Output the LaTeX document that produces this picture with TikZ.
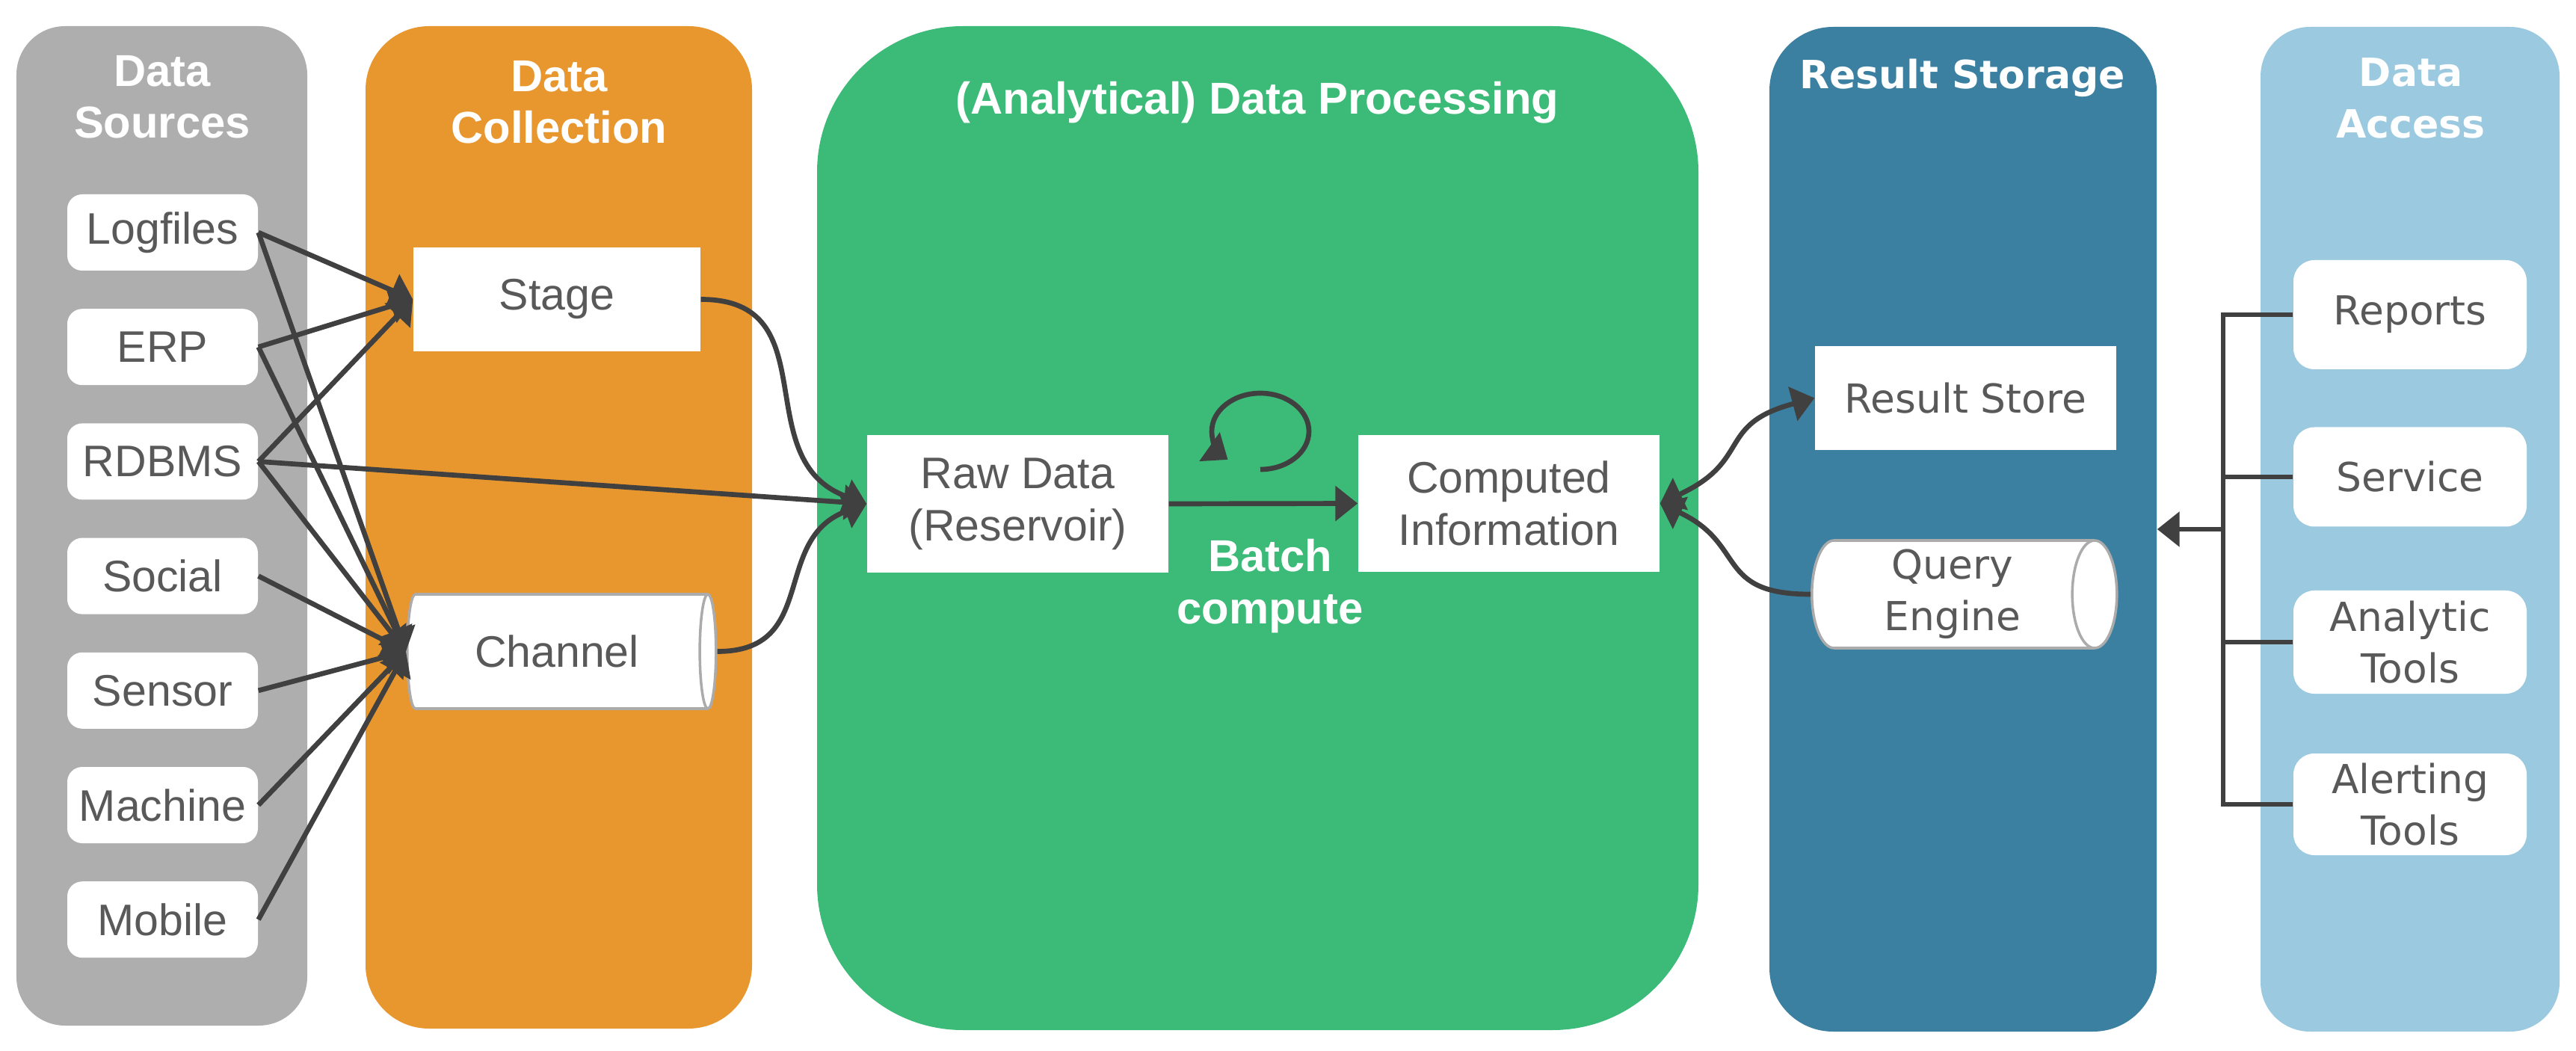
\documentclass[tikz,border=0pt]{standalone}
\usepackage{fontspec}
\setmainfont{Liberation Sans}
\newfontfamily\verdana{DejaVu Sans}
\usetikzlibrary{positioning,
                arrows.meta,                % arrow tips
                shapes.geometric}           % cylinder

\definecolor{srcgray}{HTML}{AEAEAE}
\definecolor{collorange}{HTML}{E8962E}
\definecolor{procgreen}{HTML}{3CBB78}
\definecolor{storeblue}{HTML}{3B80A0}
\definecolor{accessblue}{HTML}{9BCAE0}
\definecolor{linkgray}{HTML}{404040}
\definecolor{textgray}{HTML}{595959}
\definecolor{pipegray}{HTML}{ABABAB}

\begin{document}
\begin{tikzpicture}[
    bigtri/.tip={Triangle[length=3mm, width=4.6mm]},
    panel/.style={inner sep=0pt},
    paneltitle/.style={text=white, align=center, anchor=base, font=\bfseries\fontsize{17}{19.8}\selectfont},
    rtitle/.style={paneltitle, font=\verdana\bfseries\fontsize{14.8}{19.8}\selectfont},
    whitebox/.style={fill=white, text=textgray, align=center, inner sep=0pt, font=\fontsize{16.8}{19.9}\selectfont},
    rbox/.style={whitebox, font=\verdana\fontsize{15.2}{19.5}\selectfont},
    source/.style={whitebox, rounded corners=0.2cm, minimum width=2.55cm, minimum height=1.02cm},
    access/.style={rbox, rounded corners=0.28cm, minimum width=3.12cm},
    pipe/.style={cylinder, draw=pipegray, line width=1pt, fill=white, aspect=0.5},
    wire/.style={draw=linkgray, line width=1.9pt},
    link/.style={wire, -bigtri}
  ]
  \useasboundingbox (0,0) rectangle (34.46,14.05);

  % columns
  \node[panel, fill=srcgray, rounded corners=0.65cm, minimum width=3.89cm, minimum height=13.37cm] (sources) at (2.165,7.015) {};
  \node[panel, fill=collorange, rounded corners=0.85cm, minimum width=5.17cm, minimum height=13.41cm] (collection) at (7.475,6.995) {};
  \node[panel, fill=procgreen, rounded corners=1.95cm, minimum width=11.79cm, minimum height=13.43cm] (processing) at (16.825,6.985) {};
  \node[panel, fill=storeblue, rounded corners=0.85cm, minimum width=5.18cm, minimum height=13.44cm] (storage) at (26.26,6.97) {};
  \node[panel, fill=accessblue, rounded corners=0.66cm, minimum width=4.00cm, minimum height=13.44cm] (access) at (32.24,6.97) {};

  % titles (base = last line)
  \node[paneltitle] (t-sources) at (2.17,12.20) {Data\\Sources};
  \node[paneltitle] (t-collection) at (7.48,12.13) {Data\\Collection};
  \node[paneltitle] (t-processing) at (16.82,12.52) {(Analytical) Data Processing};
  \node[rtitle] (t-storage) at (26.25,12.86) {Result Storage};
  \node[rtitle] (t-access) at (32.25,12.20) {Data\\Access};

  % sources
  \foreach \name/\label [count=\i from 0] in {logfiles/Logfiles, erp/ERP, rdbms/RDBMS, social/Social, sensor/Sensor, machine/Machine, mobile/Mobile}
    \node[source] (\name) at (2.175,10.94-1.532*\i) {\label};

  \node[whitebox, minimum width=3.84cm, minimum height=1.39cm] (stage) at (7.45,10.045) {Stage};
  \node[pipe, whitebox, draw=pipegray, line width=1pt, minimum height=4.13cm, minimum width=1.53cm] (channel) at (7.45,5.335) {Channel};

  \node[whitebox, minimum width=4.03cm, minimum height=1.84cm] (raw) at (13.615,7.31) {Raw Data\\(Reservoir)};
  \node[whitebox, minimum width=4.03cm, minimum height=1.83cm] (comp) at (20.185,7.315) {Computed\\Information};
  \node[paneltitle] (batch) at (16.99,5.71) {Batch\\compute};
  \coordinate (loop) at (16.86,8.28);

  \node[rbox, minimum width=4.03cm, minimum height=1.39cm] (rstore) at (26.295,8.725) {Result Store};
  \node[pipe, rbox, draw=pipegray, line width=1pt, minimum height=4.08cm, minimum width=1.44cm] (query) at (26.12,6.10) {Query\\Engine};

  \node[access, minimum height=1.46cm] (reports) at (32.24,9.84) {Reports};
  \node[access, minimum height=1.33cm] (service) at (32.24,7.67) {Service};
  \node[access, minimum height=1.38cm] (analytic) at (32.24,5.46) {Analytic\\Tools};
  \node[access, minimum height=1.36cm] (alerting) at (32.24,3.29) {Alerting\\Tools};

  % connectors
  \foreach \name in {logfiles, erp, rdbms}
    \draw[link] (\name.east) -- (stage.west);
  \foreach \name in {logfiles, erp, rdbms, social, sensor, machine, mobile}
    \draw[link] (\name.east) -- (channel.west);
  \draw[link] (rdbms.east) -- (raw.west);

  \draw[link] (stage.east) to[out=0, in=160, looseness=1.25] (raw.west);
  \draw[link] (channel.east) to[out=0, in=200, looseness=1.25] (raw.west);
  \draw[link] (raw.east) -- (comp.west);
  \draw[link] (loop) ++(0,-0.51) arc[start angle=-90, end angle=228, x radius=0.65cm, y radius=0.51cm];

  \draw[link, bigtri-bigtri] (comp.east) to[out=25, in=195, looseness=1.4] (rstore.west);
  \draw[link] (query.west) to[out=180, in=-25, looseness=1.4] (comp.east);

  \coordinate (bus) at (29.74,6.97);
  \draw[wire] (reports.west) -- (reports.west -| bus) -- (alerting.west -| bus) -- (alerting.west);
  \foreach \name in {service, analytic}
    \draw[wire] (\name.west) -- (\name.west -| bus);
  \draw[link] (bus) -- (storage.east |- bus);
\end{tikzpicture}
\end{document}
